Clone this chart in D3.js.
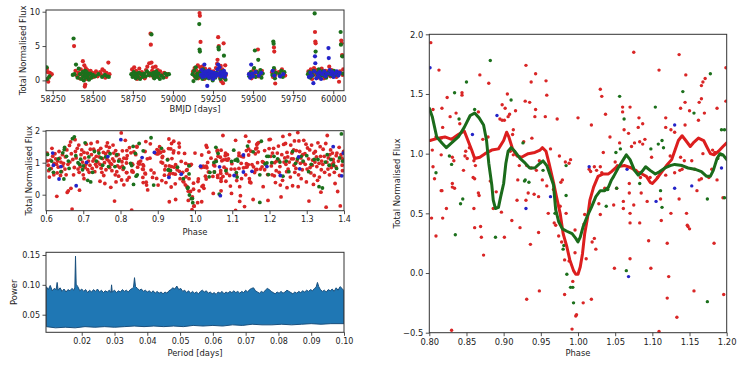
<!DOCTYPE html>
<html>
<head>
<meta charset="utf-8">
<script src="https://cdn.jsdelivr.net/npm/d3@7"></script>
<style>
  body { margin: 0; background: #fff; }
  text { font-family: "DejaVu Sans", sans-serif; fill: #222; }
</style>
</head>
<body>
<script>
// ---- light curve (BMJD vs flux), one list per colour ----
const lcRed = [
  [58214,1.7],[58220,1.2],[58226,0.4],[58232,1.1],[58238,0.8],[58244,0.9],[58222,-0.2],
  [58383,5.0],[58392,1.4],[58400,0.7],[58410,1.1],[58418,0.3],[58425,1.6],[58432,0.9],[58438,2.8],[58442,1.3],
  [58446,0.5],[58450,-0.9],[58453,-0.6],[58456,1.8],[58460,1.0],[58463,0.2],[58466,1.5],[58470,0.6],[58474,1.2],
  [58478,0.9],[58482,0.3],[58486,1.4],[58490,0.7],[58497,1.1],[58505,0.5],[58512,0.9],[58520,1.3],[58530,0.6],
  [58545,1.2],[58552,0.8],[58560,1.6],[58570,1.4],[58578,0.4],[58585,1.1],[58597,2.6],[58604,0.9],[58447,2.2],
  [58745,1.6],[58752,1.1],[58758,1.9],[58764,0.6],[58770,1.4],[58776,0.2],[58782,1.0],[58790,1.7],[58798,0.5],
  [58806,1.2],[58815,0.8],[58824,0.3],[58832,1.5],[58840,2.0],[58846,1.1],[58852,2.5],[58856,0.7],[58860,6.8],
  [58862,5.2],[58866,2.6],[58870,1.4],[58875,1.9],[58880,0.4],[58886,1.2],[58892,2.0],[58898,0.9],[58905,1.5],
  [58912,0.6],[58920,1.3],[58932,0.8],[58945,1.1],[58958,0.5],[58968,0.9],
  [59125,1.3],[59130,0.8],[59135,1.8],[59140,0.4],[59145,1.5],[59150,1.0],[59155,2.2],[59158,0.3],[59162,1.2],
  [59166,9.8],[59168,9.4],[59172,5.6],[59170,1.9],[59174,0.6],[59178,1.5],[59182,2.0],[59186,0.9],[59190,1.4],
  [59195,0.2],[59200,1.7],[59205,0.8],[59212,1.2],[59220,0.5],[59228,1.6],[59236,1.0],[59244,0.3],[59252,1.3],
  [59260,0.7],[59268,1.8],[59275,2.4],[59282,6.3],[59286,5.0],[59290,1.5],[59294,0.4],[59298,2.1],[59302,0.9],
  [59308,1.6],[59312,-0.4],[59316,5.4],[59318,1.2],[59322,0.3],[59326,2.2],[59330,0.8],[59300,-0.1],[59278,3.0],
  [59478,1.0],[59490,0.3],[59502,1.5],[59510,0.8],[59520,1.3],[59530,4.5],[59534,0.6],[59540,1.1],[59548,0.9],[59555,1.4],
  [59618,1.2],[59624,0.5],[59630,4.8],[59632,4.2],[59634,1.5],[59638,-0.45],[59640,0.8],[59660,1.2],[59670,0.6],
  [59680,1.6],[59690,1.0],[59700,0.7],
  [59845,1.3],[59852,0.6],[59860,1.6],[59868,0.2],[59874,1.1],[59880,1.8],[59886,7.05],[59888,5.65],[59890,5.4],
  [59892,0.8],[59898,1.5],[59905,0.4],[59912,1.2],[59920,0.7],[59928,1.7],[59935,1.0],[59942,0.3],[59950,1.4],
  [59958,0.9],[59966,1.3],[59975,2.0],[59982,0.6],[59990,1.5],[60000,0.9],[60010,1.2],[60020,0.5],[60030,1.0],
  [60036,-0.2],[60042,1.3],[60050,5.8],[60052,5.4],[60055,3.7],[60058,0.8],[60062,1.6]
];
const lcGreen = [
  [58212,1.9],[58216,0.2],[58230,0.6],
  [58380,6.1],[58385,0.9],[58395,2.3],[58405,0.4],[58412,1.7],[58420,0.9],[58428,0.2],[58436,1.2],[58440,0.6],
  [58444,0.0],[58448,1.0],[58452,1.4],[58455,0.4],[58458,0.8],[58462,1.2],[58468,0.5],[58472,0.9],[58476,0.1],
  [58484,1.0],[58492,0.4],[58500,0.8],[58515,0.6],[58535,0.9],[58558,0.5],[58575,0.8],[58590,0.6],[58600,0.5],[58375,0.8],
  [58740,0.9],[58748,0.5],[58756,1.2],[58762,0.8],[58768,0.3],[58774,1.0],[58780,0.6],[58788,1.1],[58795,0.2],
  [58802,0.9],[58812,0.5],[58820,1.0],[58830,0.6],[58838,1.3],[58848,0.8],[58858,1.0],[58866,6.7],[58872,0.7],
  [58878,1.1],[58884,0.3],[58890,0.8],[58896,1.3],[58902,0.5],[58910,1.0],[58918,0.2],[58928,0.7],[58940,0.4],
  [58952,1.0],[58962,0.8],[58975,0.9],
  [59122,0.9],[59128,-0.1],[59132,1.4],[59138,0.6],[59142,1.9],[59148,0.3],[59152,1.0],[59156,0.7],[59164,8.2],
  [59166,4.5],[59168,4.2],[59172,1.3],[59176,0.5],[59180,1.1],[59184,0.2],[59188,1.6],[59194,0.7],[59198,1.2],
  [59206,0.4],[59214,0.9],[59224,0.3],[59232,1.2],[59240,0.6],[59248,0.0],[59256,0.9],[59264,0.4],[59272,1.1],
  [59284,4.8],[59286,4.5],[59292,0.8],[59296,0.2],[59304,1.3],[59310,0.5],[59318,3.6],[59324,0.9],[59328,0.1],
  [59476,0.6],[59486,1.2],[59496,0.9],[59506,1.8],[59511,4.35],[59516,0.5],[59524,1.2],[59532,3.0],[59538,0.8],
  [59545,1.5],[59552,0.4],[59560,1.0],
  [59620,0.8],[59626,5.65],[59628,5.35],[59630,1.8],[59636,0.3],[59642,1.1],[59665,0.9],[59675,1.4],[59685,0.5],[59695,1.2],
  [59842,0.9],[59850,1.2],[59856,0.4],[59864,1.0],[59872,0.7],[59878,1.4],[59884,9.75],[59890,4.2],[59896,1.1],
  [59904,0.8],[59910,1.6],[59918,0.5],[59926,1.0],[59934,1.3],[59940,0.7],[59948,1.1],[59956,0.4],[59964,0.9],
  [59972,1.2],[59980,0.8],[59988,1.0],[59996,0.6],[60004,1.4],[60014,0.8],[60024,1.1],[60034,0.9],[60046,7.05],
  [60048,5.2],[60056,3.5],[60060,1.0]
];
const lcBlue = [
  [59175,0.8],[59180,1.5],[59185,0.5],[59190,1.1],[59196,2.3],[59200,0.6],[59205,1.3],[59210,0.9],[59214,-0.8],
  [59218,0.7],[59222,1.4],[59226,0.4],[59230,1.0],[59234,0.6],[59240,1.2],[59246,0.8],[59250,0.2],[59255,1.1],
  [59262,0.5],[59268,1.0],[59274,0.7],[59278,1.6],[59282,2.3],[59286,0.9],[59290,1.9],[59296,1.2],[59300,0.6],
  [59306,1.1],[59312,0.8],[59318,1.4],[59324,0.5],[59330,1.0],
  [59474,0.9],[59482,0.4],[59488,2.3],[59494,1.0],[59500,0.6],[59515,1.2],[59535,0.7],[59550,1.1],
  [59622,1.4],[59632,0.7],[59668,0.6],[59688,0.9],
  [59848,0.5],[59858,1.1],[59866,0.7],[59876,-0.4],[59882,1.3],[59886,3.5],[59888,2.5],[59894,0.3],[59902,1.0],
  [59908,0.6],[59916,1.2],[59924,0.2],[59932,0.9],[59944,1.3],[59952,0.6],[59962,1.0],[59970,4.7],[59972,3.25],
  [59978,1.5],[59986,0.9],[59994,1.2],[60002,0.5],[60012,1.0],[60022,1.3],[60032,0.7],[60040,1.1]
];

// ---- phase-folded points (phase vs flux), shared by the middle and right panels ----
const phRed = [
  [0.604,1.06],[0.606,0.92],[0.607,0.75],[0.612,1.08],[0.614,0.82],[0.618,1.20],[0.622,0.98],[0.626,1.12],[0.629,-0.05],
  [0.631,1.05],[0.633,0.86],[0.637,1.14],[0.640,1.02],[0.642,0.72],[0.645,0.90],[0.652,1.18],[0.654,0.62],[0.657,0.07],
  [0.660,0.12],[0.663,1.54],[0.666,1.65],[0.667,0.20],[0.670,-0.45],[0.672,1.10],[0.676,0.85],[0.679,1.35],[0.684,1.45],
  [0.686,0.80],[0.689,0.70],[0.694,1.25],[0.698,1.02],[0.702,1.32],[0.705,0.85],[0.708,1.58],[0.712,0.78],[0.716,0.70],
  [0.719,1.42],[0.722,1.25],[0.726,1.05],[0.729,1.12],[0.733,0.95],[0.736,0.88],[0.738,1.65],[0.741,1.38],[0.745,0.95],
  [0.748,0.83],[0.752,1.13],[0.755,0.60],[0.758,0.35],[0.760,1.28],[0.762,1.52],[0.765,1.62],[0.769,1.05],[0.771,0.85],
  [0.774,0.23],[0.776,0.95],[0.779,1.12],[0.782,1.30],[0.784,-0.20],[0.786,0.62],[0.789,1.22],[0.792,0.90],[0.795,0.58],
  [0.797,1.10],[0.690,0.14],
  [0.603,1.30],[0.609,0.55],[0.616,1.45],[0.621,0.62],[0.624,1.28],[0.628,0.95],[0.635,1.35],[0.639,0.60],[0.644,1.25],
  [0.647,0.98],[0.651,0.80],[0.656,1.40],[0.659,0.95],[0.664,1.02],[0.668,1.28],[0.674,0.62],[0.678,1.72],[0.681,1.15],
  [0.688,1.55],[0.692,0.88],[0.696,1.40],[0.700,0.62],[0.704,1.15],[0.707,0.95],[0.711,1.30],[0.714,1.05],[0.718,0.92],
  [0.721,1.60],[0.724,0.82],[0.728,1.42],[0.731,0.72],[0.735,1.20],[0.739,1.02],[0.743,1.18],[0.747,1.45],[0.750,0.70],
  [0.754,1.32],[0.757,1.00],[0.761,0.78],[0.764,1.10],[0.767,1.35],[0.770,1.48],[0.773,0.98],[0.777,0.75],[0.780,1.55],
  [0.783,1.05],[0.787,1.38],[0.790,0.72],[0.794,1.25],[0.798,0.85],[0.788,0.40],[0.745,0.42],[0.702,0.50],[0.630,0.68],
  [0.802,1.93],[0.813,1.70],[0.805,1.37],[0.817,1.38],[0.824,1.47],[0.844,1.51],[0.844,1.49],[0.828,1.31],[0.836,1.34],
  [0.841,1.25],[0.818,1.22],[0.809,1.14],[0.816,1.13],[0.804,1.03],[0.816,0.99],[0.805,0.89],[0.831,0.97],[0.833,0.94],
  [0.807,0.79],[0.817,0.69],[0.831,0.75],[0.834,0.71],[0.846,0.86],[0.849,1.02],[0.848,0.98],[0.851,0.96],[0.854,1.05],
  [0.860,0.94],[0.862,0.90],[0.866,1.35],[0.868,1.66],[0.872,1.12],[0.859,0.80],[0.866,0.67],[0.880,1.59],[0.879,1.14],
  [0.898,1.41],[0.902,1.38],[0.895,1.29],[0.898,1.28],[0.901,1.28],[0.905,1.50],[0.906,1.31],[0.908,1.33],[0.912,1.16],
  [0.913,1.20],[0.916,1.36],[0.909,1.02],[0.913,0.99],[0.921,0.90],[0.931,0.90],[0.937,0.88],[0.948,0.94],[0.919,0.78],
  [0.930,1.74],[0.929,1.44],[0.935,1.43],[0.937,1.60],[0.943,1.67],[0.938,1.13],[0.927,1.10],[0.943,1.37],[0.942,1.31],
  [0.956,1.31],[0.957,1.61],[0.958,1.49],[0.944,0.86],[0.941,0.66],[0.963,1.04],[0.972,1.29],[0.975,0.98],[0.983,0.93],
  [0.990,0.95],[0.977,0.76],[0.979,0.78],[0.988,0.92],[1.000,1.30],[1.018,1.24],[1.030,1.54],[1.032,1.48],[1.037,1.33],
  [1.043,1.14],[1.056,1.09],[1.034,1.01],[1.060,1.39],[1.070,1.39],[1.060,1.35],[1.062,1.20],[1.068,1.17],[1.075,1.85],
  [1.082,1.30],[1.081,1.22],[1.087,1.25],[1.072,1.06],[1.076,1.09],[1.083,1.10],[1.090,1.12],[1.087,1.08],[1.099,0.97],
  [1.109,1.70],[1.118,1.30],[1.118,1.22],[1.125,1.20],[1.130,1.18],[1.124,0.98],[1.138,1.38],[1.136,1.83],[1.145,1.66],
  [1.150,1.36],[1.144,1.43],[1.144,1.24],[1.138,0.97],[1.143,0.94],[1.153,0.94],[1.162,1.28],[1.163,1.43],[1.166,1.46],
  [1.166,1.57],[1.168,1.60],[1.171,1.63],[1.170,1.34],[1.168,1.00],[1.181,1.03],[1.184,1.01],[1.187,1.38],[1.015,0.87],
  [1.017,0.85],[1.022,0.89],[1.025,0.86],[1.030,0.89],[1.032,0.84],[1.050,0.93],[1.053,0.90],[1.078,0.86],[1.084,0.80],
  [1.097,0.80],[1.107,0.80],[1.118,0.82],[1.130,0.84],[1.137,0.86],[1.140,0.87],[1.157,0.87],[1.176,0.80],[1.180,0.87],
  [1.199,1.72],[1.199,1.44],
  [0.803,0.46],[0.809,0.31],[0.816,0.69],[0.818,0.46],[0.823,0.54],[0.831,0.72],[0.830,-0.48],[0.861,0.79],[0.860,0.54],
  [0.861,0.38],[0.867,0.65],[0.869,0.39],[0.870,0.30],[0.873,0.15],[0.882,0.77],[0.886,0.54],[0.890,0.68],[0.897,0.51],
  [0.901,0.30],[0.911,0.44],[0.918,0.61],[0.922,0.38],[0.930,0.61],[0.931,-0.22],[0.933,0.67],[0.936,0.24],[0.947,0.64],
  [0.947,0.34],[0.948,-0.15],[0.960,0.50],[0.967,0.70],[0.968,0.42],[0.970,0.40],[0.974,0.31],[0.982,0.11],[0.988,0.10],
  [0.982,-0.18],[0.992,-0.47],[0.997,-0.36],[0.993,-0.07],[0.984,0.50],[0.978,0.26],[0.976,0.56],[0.996,0.36],[0.996,0.17],
  [0.998,-0.35],[1.007,-0.25],[1.011,0.12],[1.018,-0.22],[1.019,0.26],[1.022,0.29],[1.024,0.20],[1.008,0.41],[1.009,0.49],
  [1.030,0.49],[1.028,0.58],[1.048,0.57],[1.049,0.04],[1.061,0.60],[1.061,0.54],[1.070,0.50],[1.070,0.42],[1.070,0.12],
  [1.075,0.57],[1.083,0.42],[1.085,0.67],[1.093,0.60],[1.095,0.27],[1.098,0.04],[1.112,0.44],[1.111,0.62],[1.120,0.25],
  [1.122,-0.03],[1.120,-0.21],[1.125,0.50],[1.133,-0.37],[1.136,0.62],[1.146,0.50],[1.147,0.40],[1.148,0.39],[1.150,0.37],
  [1.156,-0.15],[1.160,0.69],[1.183,0.25],[1.196,-0.18],[1.195,0.63],[1.109,-0.49],[1.036,0.71],[1.052,0.71],[1.069,0.67],
  [1.069,0.75],[1.163,0.78],[1.166,0.79],[1.187,0.78],[0.952,0.78],[0.958,0.73],
  [1.202,1.73],[1.205,0.90],[1.208,1.30],[1.213,0.59],[1.216,0.38],[1.219,1.05],[1.224,1.52],[1.226,0.70],[1.229,0.30],
  [1.231,-0.07],[1.236,1.82],[1.238,1.57],[1.241,1.15],[1.244,0.95],[1.247,1.32],[1.250,0.80],[1.254,1.88],[1.257,1.55],
  [1.259,1.12],[1.262,0.28],[1.266,0.92],[1.268,0.70],[1.272,1.38],[1.276,1.94],[1.279,1.68],[1.283,0.98],[1.285,0.50],
  [1.289,1.25],[1.292,1.70],[1.296,0.95],[1.299,0.40],[1.302,1.46],[1.306,-0.20],[1.309,0.85],[1.313,1.55],[1.316,1.08],
  [1.320,0.60],[1.323,1.35],[1.327,0.88],[1.330,1.62],[1.334,0.55],[1.337,1.20],[1.340,1.05],[1.344,1.42],[1.348,0.70],
  [1.352,-0.39],[1.355,1.85],[1.358,1.15],[1.361,0.62],[1.366,0.85],[1.369,1.30],[1.372,1.00],[1.376,0.35],[1.379,1.22],
  [1.383,0.10],[1.387,1.48],[1.390,-0.35],[1.393,1.15],[1.396,0.75],[1.399,1.35],[1.247,0.22],[1.265,1.40],[1.318,0.32],
  [1.203,1.20],[1.207,0.62],[1.211,1.45],[1.214,1.00],[1.218,0.75],[1.221,1.30],[1.225,1.08],[1.228,0.88],[1.233,1.25],
  [1.235,0.45],[1.239,1.02],[1.243,1.60],[1.246,0.72],[1.249,1.18],[1.253,1.02],[1.256,0.55],[1.260,1.30],[1.264,1.12],
  [1.267,1.68],[1.271,0.82],[1.274,1.05],[1.278,0.62],[1.281,1.35],[1.284,1.15],[1.288,0.78],[1.291,1.02],[1.295,1.28],
  [1.298,1.58],[1.301,0.80],[1.305,1.12],[1.308,1.40],[1.311,0.68],[1.315,0.92],[1.319,1.30],[1.322,1.02],[1.326,1.18],
  [1.329,0.45],[1.333,0.98],[1.336,1.50],[1.339,0.78],[1.343,0.95],[1.347,1.20],[1.351,1.60],[1.354,1.02],[1.357,0.80],
  [1.362,1.25],[1.364,1.40],[1.368,0.95],[1.371,1.10],[1.374,0.70],[1.378,0.88],[1.381,1.30],[1.385,1.05],[1.388,0.60],
  [1.392,1.25],[1.395,0.92],[1.398,1.10],[1.277,0.25],[1.338,0.08]
];
const phGreen = [
  [0.604,1.26],[0.610,0.80],[0.620,0.70],[0.640,0.72],[0.645,1.31],[0.649,1.41],[0.650,1.48],[0.648,0.49],[0.655,1.20],
  [0.662,0.82],[0.671,1.75],[0.676,1.81],[0.686,1.00],[0.690,0.95],[0.693,1.11],[0.700,0.90],[0.705,1.62],[0.712,0.45],
  [0.720,0.40],[0.725,0.70],[0.730,1.35],[0.742,1.30],[0.752,0.92],[0.760,1.18],[0.772,1.28],[0.785,0.88],[0.795,1.05],
  [0.615,1.05],[0.633,1.12],[0.660,1.05],[0.680,1.22],[0.698,0.78],[0.715,1.18],[0.735,1.05],[0.748,1.15],[0.768,0.88],
  [0.790,1.25],
  [0.834,1.51],[0.850,1.60],[0.882,1.78],[0.861,1.37],[0.910,1.45],[0.840,1.29],[0.827,0.98],[0.830,0.91],[0.809,0.84],
  [0.926,1.09],[0.929,0.78],[0.928,0.77],[0.953,0.86],[0.984,0.90],[1.056,1.48],[1.062,1.29],[1.057,1.04],[1.051,1.01],
  [1.104,1.39],[1.098,1.04],[1.108,1.08],[1.113,1.11],[1.115,1.05],[1.141,1.52],[1.156,1.34],[1.178,1.67],[1.193,1.20],
  [1.197,1.20],[1.188,0.96],[1.193,0.99],[1.083,0.75],[0.835,0.32],[0.842,0.58],[0.845,0.62],[0.889,0.30],[0.934,0.76],
  [0.969,0.50],[0.980,0.20],[0.981,0.23],[0.984,0.65],[0.985,-0.01],[0.990,-0.12],[0.993,-0.12],[0.994,-0.25],[1.038,0.56],
  [1.040,0.70],[1.052,0.71],[1.065,0.02],[1.113,0.55],[1.111,0.69],[1.174,0.62],[1.174,-0.24],[1.197,0.63],
  [1.206,1.00],[1.222,1.12],[1.228,1.02],[1.252,0.72],[1.262,1.35],[1.275,1.12],[1.290,1.05],[1.300,1.22],[1.312,0.95],
  [1.320,1.10],[1.333,0.25],[1.342,0.21],[1.350,1.02],[1.360,0.92],[1.365,1.10],[1.380,0.82],[1.393,1.90],[1.396,1.05],[1.236,0.58],
  [1.212,1.20],[1.245,1.05],[1.270,0.98],[1.285,1.20],[1.305,0.72],[1.330,1.10],[1.355,1.25],[1.372,0.92],[1.388,1.15]
];
const phBlue = [
  [0.618,1.30],[0.620,0.92],[0.635,0.49],[0.640,0.88],[0.681,0.28],[0.709,1.01],[0.766,1.19],
  [0.801,1.72],[0.858,1.16],[0.891,1.32],[0.930,0.54],[0.963,0.64],[1.015,0.89],[1.066,0.87],[1.068,-0.03],[1.105,0.60],
  [1.130,1.24],[1.130,0.71],[1.153,0.73],[1.193,0.88],
  [1.229,0.60],[1.278,1.18],[1.281,0.81],[1.371,1.50],[1.394,0.59],[1.398,1.30]
];

// ---- smoothed curves in the zoomed phase panel ----
const smoothRed = [
  [0.801,1.11],[0.812,1.13],[0.821,1.14],[0.830,1.12],[0.839,1.16],[0.847,1.19],[0.852,1.11],[0.857,1.03],[0.861,0.96],
  [0.868,0.97],[0.875,1.00],[0.884,1.03],[0.893,1.04],[0.900,1.11],[0.904,1.18],[0.907,1.14],[0.912,1.04],[0.918,0.98],
  [0.924,0.97],[0.933,1.00],[0.942,1.01],[0.949,1.03],[0.952,1.05],[0.957,1.02],[0.961,0.92],[0.967,0.76],[0.971,0.64],
  [0.976,0.50],[0.980,0.33],[0.985,0.22],[0.989,0.11],[0.994,0.02],[0.997,-0.01],[1.000,-0.01],[1.003,0.05],[1.006,0.16],
  [1.009,0.33],[1.013,0.47],[1.016,0.61],[1.021,0.72],[1.027,0.81],[1.034,0.83],[1.041,0.83],[1.045,0.85],[1.052,0.89],
  [1.063,0.90],[1.072,0.88],[1.079,0.85],[1.086,0.83],[1.092,0.81],[1.097,0.76],[1.100,0.75],[1.106,0.79],[1.113,0.85],
  [1.119,0.90],[1.126,0.95],[1.131,1.04],[1.135,1.11],[1.140,1.15],[1.145,1.11],[1.151,1.06],[1.155,1.09],[1.162,1.13],
  [1.169,1.11],[1.173,1.06],[1.178,1.00],[1.183,0.99],[1.189,1.02],[1.195,1.06],[1.200,1.09]
];
const smoothGreen = [
  [0.800,1.38],[0.804,1.31],[0.810,1.14],[0.817,1.09],[0.823,1.05],[0.830,1.09],[0.839,1.14],[0.847,1.22],[0.855,1.32],
  [0.861,1.34],[0.867,1.30],[0.873,1.24],[0.877,1.11],[0.880,0.92],[0.884,0.74],[0.886,0.61],[0.889,0.54],[0.893,0.55],
  [0.896,0.64],[0.900,0.75],[0.903,0.92],[0.906,1.02],[0.910,1.05],[0.915,1.02],[0.922,0.96],[0.929,0.92],[0.935,0.88],
  [0.942,0.88],[0.949,0.92],[0.953,0.94],[0.958,0.90],[0.962,0.83],[0.967,0.74],[0.968,0.67],[0.970,0.53],[0.974,0.43],
  [0.979,0.37],[0.985,0.35],[0.992,0.33],[0.997,0.29],[1.000,0.26],[1.003,0.30],[1.007,0.39],[1.012,0.47],[1.018,0.55],
  [1.024,0.64],[1.030,0.69],[1.036,0.69],[1.041,0.72],[1.045,0.78],[1.048,0.81],[1.054,0.88],[1.061,0.95],[1.065,0.99],
  [1.070,0.95],[1.076,0.86],[1.081,0.82],[1.086,0.85],[1.091,0.89],[1.097,0.86],[1.104,0.83],[1.110,0.85],[1.117,0.88],
  [1.124,0.90],[1.130,0.91],[1.140,0.90],[1.148,0.88],[1.157,0.87],[1.166,0.85],[1.173,0.81],[1.178,0.81],[1.182,0.86],
  [1.187,0.96],[1.191,1.00],[1.195,0.99],[1.200,0.95]
];

// ---- periodogram: upper and lower edges of the filled band ----
const powerTop = [
  [0.0092,0.097],[0.0098,0.092],[0.0104,0.099],[0.011,0.090],[0.0116,0.094],[0.0122,0.092],[0.0125,0.104],[0.0128,0.091],
  [0.0134,0.095],[0.014,0.089],[0.0146,0.093],[0.0152,0.088],[0.0158,0.092],[0.0164,0.090],[0.017,0.094],[0.0176,0.091],
  [0.0179,0.096],[0.0181,0.148],[0.0183,0.101],[0.0188,0.097],[0.0194,0.090],[0.020,0.093],[0.0206,0.089],[0.0212,0.092],
  [0.0218,0.087],[0.0224,0.091],[0.023,0.088],[0.0236,0.092],[0.0242,0.089],[0.0248,0.093],[0.0254,0.088],[0.026,0.091],
  [0.0266,0.087],[0.0272,0.090],[0.0278,0.088],[0.0284,0.091],[0.0289,0.087],[0.0291,0.100],[0.0293,0.088],[0.030,0.091],
  [0.0306,0.087],[0.0312,0.090],[0.0318,0.088],[0.0324,0.092],[0.033,0.089],[0.0336,0.091],[0.0342,0.088],[0.0348,0.092],
  [0.0354,0.094],[0.0358,0.096],[0.0361,0.112],[0.0364,0.097],[0.037,0.094],[0.0376,0.091],[0.0382,0.093],[0.0388,0.089],
  [0.0394,0.091],[0.040,0.088],[0.0406,0.090],[0.0412,0.087],[0.0418,0.090],[0.0424,0.086],[0.043,0.089],[0.0436,0.086],
  [0.0442,0.088],[0.0448,0.085],[0.0454,0.088],[0.046,0.086],[0.0466,0.090],[0.0472,0.092],[0.0478,0.095],[0.0484,0.093],
  [0.049,0.098],[0.0496,0.092],[0.0502,0.094],[0.0508,0.089],[0.0514,0.091],[0.052,0.087],[0.0526,0.090],[0.0532,0.086],
  [0.0538,0.089],[0.0544,0.086],[0.055,0.088],[0.0556,0.085],[0.0562,0.089],[0.0568,0.091],[0.0574,0.088],[0.058,0.090],
  [0.0586,0.086],[0.0592,0.088],[0.0598,0.085],[0.0604,0.087],[0.061,0.084],[0.0616,0.088],[0.0622,0.086],[0.0628,0.089],
  [0.0634,0.085],[0.064,0.088],[0.0646,0.086],[0.0652,0.089],[0.0658,0.087],[0.0664,0.090],[0.067,0.087],[0.0676,0.089],
  [0.0682,0.086],[0.0688,0.089],[0.0694,0.087],[0.070,0.091],[0.0706,0.088],[0.0712,0.092],[0.0718,0.094],[0.0724,0.095],
  [0.073,0.090],[0.0736,0.088],[0.0742,0.086],[0.0748,0.089],[0.0754,0.087],[0.076,0.091],[0.0766,0.094],[0.0772,0.092],
  [0.0778,0.089],[0.0784,0.087],[0.079,0.085],[0.0796,0.088],[0.0802,0.086],[0.0808,0.089],[0.0814,0.086],[0.082,0.088],
  [0.0826,0.091],[0.0832,0.089],[0.0838,0.087],[0.0844,0.085],[0.085,0.088],[0.0856,0.086],[0.0862,0.089],[0.0868,0.087],
  [0.0874,0.090],[0.088,0.088],[0.0886,0.091],[0.0892,0.089],[0.0898,0.092],[0.0904,0.090],[0.091,0.094],[0.0915,0.096],
  [0.0919,0.104],[0.0923,0.097],[0.0928,0.092],[0.0934,0.089],[0.094,0.091],[0.0946,0.088],[0.0952,0.092],[0.0958,0.090],
  [0.0964,0.093],[0.097,0.089],[0.0976,0.095],[0.0982,0.091],[0.0988,0.097],[0.0994,0.094],[0.100,0.090]
];
const powerLow = [
  [0.0092,0.030],[0.012,0.028],[0.015,0.029],[0.018,0.028],[0.021,0.030],[0.024,0.029],[0.027,0.030],[0.030,0.029],
  [0.033,0.030],[0.036,0.031],[0.039,0.030],[0.042,0.031],[0.045,0.030],[0.048,0.031],[0.051,0.030],[0.054,0.032],
  [0.057,0.031],[0.060,0.032],[0.063,0.031],[0.066,0.033],[0.069,0.032],[0.072,0.034],[0.075,0.033],[0.078,0.033],
  [0.081,0.034],[0.084,0.033],[0.087,0.034],[0.090,0.035],[0.093,0.034],[0.096,0.035],[0.100,0.035]
];

// ---- tick values ----
const lcTicksX = [58250, 58500, 58750, 59000, 59250, 59500, 59750, 60000];
const lcTicksY = [0, 5, 10];
const phTicksX = [0.6, 0.7, 0.8, 0.9, 1.0, 1.1, 1.2, 1.3, 1.4];
const phTicksY = [0, 1, 2];
const pgTicksX = [0.02, 0.03, 0.04, 0.05, 0.06, 0.07, 0.08, 0.09, 0.10];
const pgTicksY = [0.05, 0.10, 0.15];
const zmTicksX = [0.80, 0.85, 0.90, 0.95, 1.00, 1.05, 1.10, 1.15, 1.20];
const zmTicksY = [-0.5, 0.0, 0.5, 1.0, 1.5, 2.0];

const RED = "#d92626", GREEN = "#1c701c", BLUE = "#2424c8";

const svg = d3.select("body").append("svg")
  .attr("width", 750).attr("height", 375);

let clipCount = 0;

function makePanel(box, xDom, yDom) {
  const x = d3.scaleLinear().domain(xDom).range([box.l, box.r]);
  const y = d3.scaleLinear().domain(yDom).range([box.b, box.t]);
  const id = "clip" + (clipCount++);
  svg.append("clipPath").attr("id", id)
    .append("rect")
      .attr("x", box.l).attr("y", box.t)
      .attr("width", box.r - box.l).attr("height", box.b - box.t);
  const plot = svg.append("g").attr("clip-path", `url(#${id})`);
  return {x, y, plot, box};
}

function finishPanel(p, opt) {
  const {x, y, box} = p;
  const fs = opt.fontSize;

  const xAxis = d3.axisBottom(x).tickValues(opt.xTicks).tickFormat(d3.format(opt.xFmt))
    .tickSize(3.5).tickSizeOuter(0).tickPadding(2.5);
  const gx = svg.append("g").attr("transform", `translate(0,${box.b})`).call(xAxis);
  const yAxis = d3.axisLeft(y).tickValues(opt.yTicks).tickFormat(d3.format(opt.yFmt))
    .tickSize(3.5).tickSizeOuter(0).tickPadding(2.5);
  const gy = svg.append("g").attr("transform", `translate(${box.l},0)`).call(yAxis);
  [gx, gy].forEach(g => {
    g.select(".domain").remove();
    g.selectAll(".tick line").attr("stroke", "#222").attr("stroke-width", 0.8);
    g.selectAll(".tick text").attr("fill", "#222")
      .style("font-family", '"DejaVu Sans", sans-serif').style("font-size", fs + "px");
  });

  // frame
  svg.append("rect")
    .attr("x", box.l).attr("y", box.t)
    .attr("width", box.r - box.l).attr("height", box.b - box.t)
    .attr("fill", "none").attr("stroke", "#333").attr("stroke-width", 1);

  svg.append("text")
    .attr("x", (box.l + box.r) / 2).attr("y", box.b + opt.xLabelDy)
    .attr("text-anchor", "middle").style("font-size", opt.labelSize + "px")
    .text(opt.xLabel);

  svg.append("text")
    .attr("transform", `translate(${opt.yLabelX},${(box.t + box.b) / 2}) rotate(-90)`)
    .attr("text-anchor", "middle").style("font-size", opt.labelSize + "px")
    .text(opt.yLabel);
}

function dots(p, data, color, r) {
  p.plot.selectAll(null).data(data).join("circle")
    .attr("cx", d => p.x(d[0]))
    .attr("cy", d => p.y(d[1]))
    .attr("r", r)
    .attr("fill", color);
}

// ---- panel 1: light curve ----
const lc = makePanel({l: 46, r: 344, t: 10, b: 90.7}, [58208, 60067], [-1.5, 10.25]);
dots(lc, lcRed, RED, 2.1);
dots(lc, lcGreen, GREEN, 2.1);
dots(lc, lcBlue, BLUE, 2.1);
finishPanel(lc, {
  xTicks: lcTicksX, yTicks: lcTicksY, xFmt: "d", yFmt: "d", fontSize: 8, labelSize: 8.4,
  xLabel: "BMJD [days]", yLabel: "Total Normalised Flux", xLabelDy: 21.5, yLabelX: 25.5
});

// ---- panel 2: folded over 0.6 - 1.4 ----
const ph = makePanel({l: 46, r: 344, t: 130.7, b: 210.7}, [0.6, 1.4], [-0.5, 2]);
dots(ph, phRed, RED, 1.9);
dots(ph, phGreen, GREEN, 1.9);
dots(ph, phBlue, BLUE, 1.9);
finishPanel(ph, {
  xTicks: phTicksX, yTicks: phTicksY, xFmt: ".1f", yFmt: "d", fontSize: 8, labelSize: 8.4,
  xLabel: "Phase", yLabel: "Total Normalised Flux", xLabelDy: 24, yLabelX: 32
});

// ---- panel 3: periodogram ----
const pg = makePanel({l: 46, r: 344, t: 252.3, b: 332.3}, [0.0091, 0.1], [0.0205, 0.1545]);
const band = powerTop.concat(powerLow.slice().reverse());
pg.plot.append("path")
  .attr("d", d3.line().x(d => pg.x(d[0])).y(d => pg.y(d[1]))(band) + "Z")
  .attr("fill", "#1f77b4")
  .attr("stroke", "#1a4f7c").attr("stroke-width", 1).attr("stroke-linejoin", "round");
finishPanel(pg, {
  xTicks: pgTicksX, yTicks: pgTicksY, xFmt: ".2f", yFmt: ".2f", fontSize: 8, labelSize: 8.4,
  xLabel: "Period [days]", yLabel: "Power", xLabelDy: 24, yLabelX: 17
});

// ---- panel 4: zoom on the eclipse ----
const zm = makePanel({l: 429.3, r: 726.7, t: 34.3, b: 332.7}, [0.8, 1.2], [-0.5, 2.0]);
const inZoom = d => d[0] >= 0.8 && d[0] <= 1.2;
dots(zm, phRed.filter(inZoom), RED, 1.7);
dots(zm, phGreen.filter(inZoom), GREEN, 1.7);
dots(zm, phBlue.filter(inZoom), BLUE, 1.7);
const smoothLine = d3.line().x(d => zm.x(d[0])).y(d => zm.y(d[1]));
zm.plot.append("path").attr("d", smoothLine(smoothRed))
  .attr("fill", "none").attr("stroke", "#dc1e1e").attr("stroke-width", 3)
  .attr("stroke-linejoin", "round").attr("stroke-linecap", "round");
zm.plot.append("path").attr("d", smoothLine(smoothGreen))
  .attr("fill", "none").attr("stroke", "#1b6b1b").attr("stroke-width", 3)
  .attr("stroke-linejoin", "round").attr("stroke-linecap", "round");
finishPanel(zm, {
  xTicks: zmTicksX, yTicks: zmTicksY, xFmt: ".2f", yFmt: ".1f", fontSize: 8.4, labelSize: 8.4,
  xLabel: "Phase", yLabel: "Total Normalised Flux", xLabelDy: 23.5, yLabelX: 399.5
});
</script>
</body>
</html>
